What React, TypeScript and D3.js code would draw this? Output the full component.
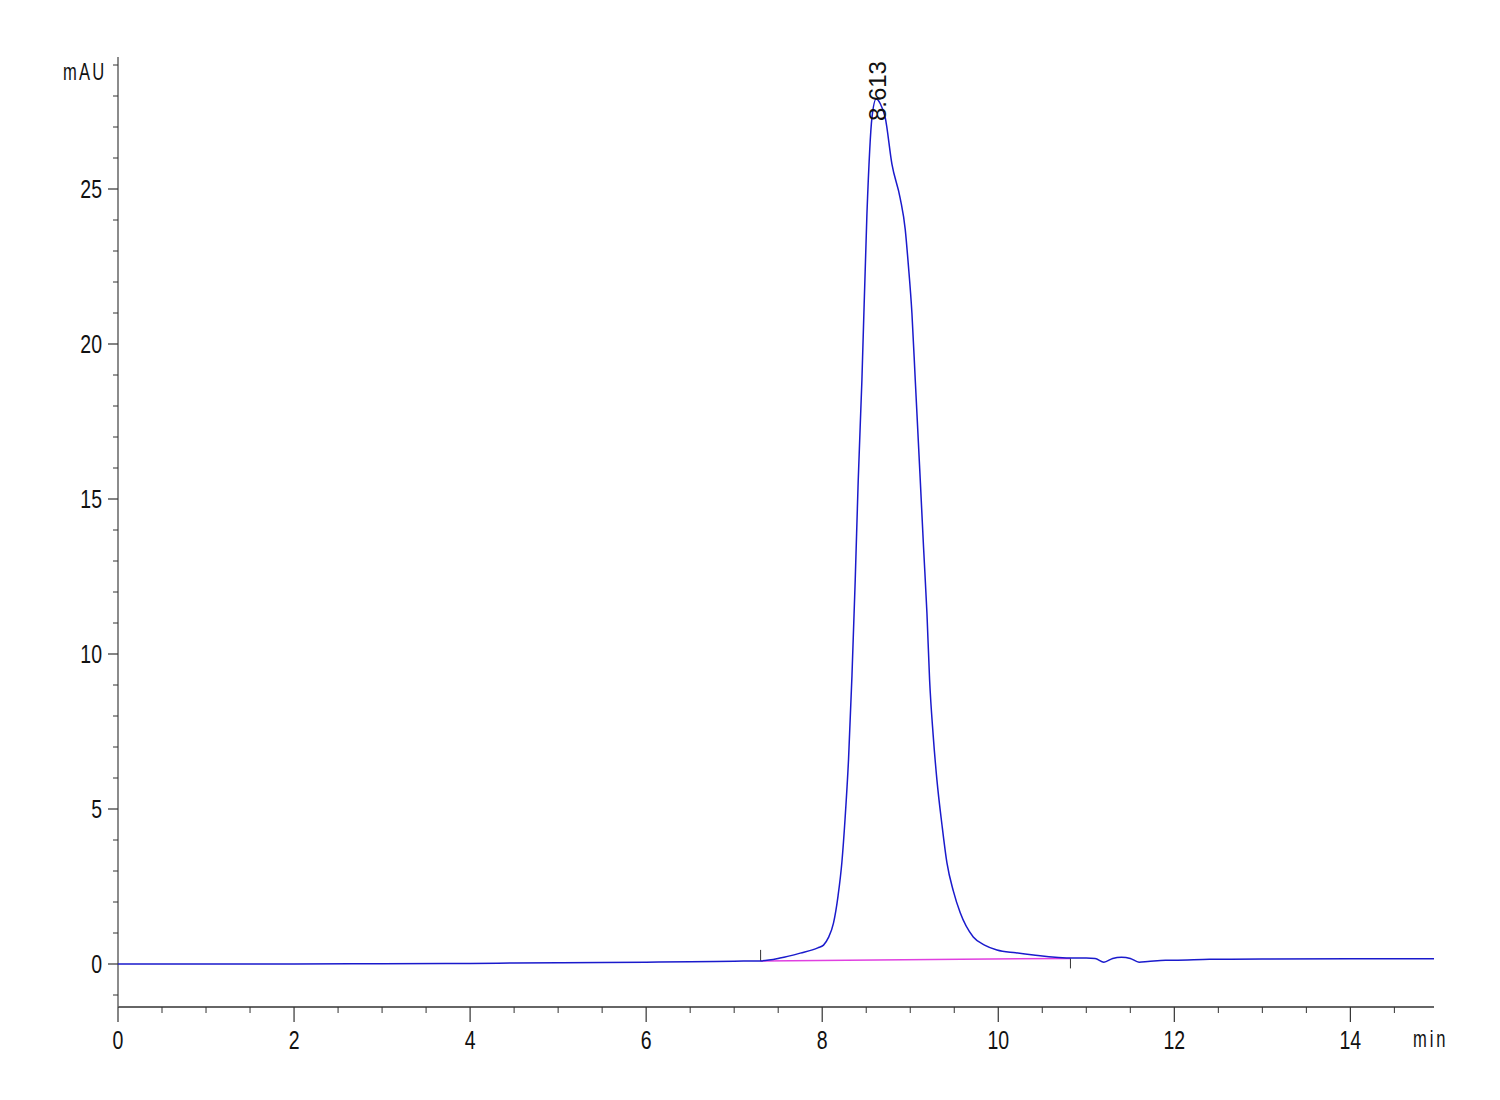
import React from "react";
import * as d3 from "d3";

const timeMin: number[] = [0, 1, 2, 3, 4, 4.5, 5, 5.5, 6, 6.5, 7, 7.3, 7.52, 7.75, 7.95, 8.015, 8.07, 8.128, 8.18, 8.224, 8.26, 8.299, 8.338, 8.375, 8.409, 8.451, 8.508, 8.565, 8.613, 8.66, 8.716, 8.792, 8.886, 8.943, 8.977, 9.019, 9.057, 9.114, 9.151, 9.19, 9.22, 9.26, 9.303, 9.36, 9.417, 9.49, 9.568, 9.716, 9.85, 9.985, 10.2, 10.4, 10.85, 11.0, 11.1, 11.2, 11.3, 11.4, 11.5, 11.6, 11.7, 11.9, 12.0, 12.4, 13.0, 14.0, 14.95];
const signal: number[] = [0.0, 0.0, 0.0, 0.01, 0.02, 0.03, 0.04, 0.05, 0.06, 0.07, 0.09, 0.1, 0.19, 0.35, 0.52, 0.61, 0.85, 1.32, 2.2, 3.3, 4.7, 6.6, 9.3, 12.39, 15.6, 18.84, 24.2, 27.3, 27.9, 27.75, 27.3, 25.8, 24.7, 23.7, 22.6, 21.0, 18.84, 15.6, 13.45, 11.3, 9.16, 7.4, 5.94, 4.5, 3.26, 2.35, 1.65, 0.87, 0.6, 0.45, 0.36, 0.29, 0.19, 0.19, 0.18, 0.06, 0.18, 0.22, 0.18, 0.06, 0.08, 0.12, 0.12, 0.15, 0.16, 0.17, 0.17];
const baselineStart = { t: 7.3, v: 0.1 };
const baselineEnd = { t: 10.82, v: 0.18 };
const peakTime = 8.613;
const peakValue = 27.9;
const yMajorTicks: number[] = [0, 5, 10, 15, 20, 25];
const xMajorTicks: number[] = [0, 2, 4, 6, 8, 10, 12, 14];

const font = "'Liberation Sans', Arial, sans-serif";

function Label({ x, y, anchor, children, size = 25, sx = 0.78, spacing = 0 }: any) {
  return (
    <text
      transform={`translate(${x},${y}) scale(${sx},1)`}
      textAnchor={anchor}
      fontFamily={font}
      fontSize={size}
      letterSpacing={spacing}
      fill="#111"
    >
      {children}
    </text>
  );
}

export default function App() {
  const x = d3.scaleLinear().domain([0, 14.95]).range([118, 1434]);
  const y = d3.scaleLinear().domain([0, 25]).range([964, 189]);
  const yTop = 57;
  const yBottom = 1007;

  const pts = timeMin.map((t, i) => [t, signal[i]] as [number, number]);
  const line = d3.line<[number, number]>().x(d => x(d[0])).y(d => y(d[1])).curve(d3.curveMonotoneX);

  const yMinor: number[] = d3.range(-1, 30).filter(v => v % 5 !== 0 && y(v) >= yTop && y(v) <= yBottom);
  const xMinor: number[] = d3.range(0, 15, 0.5).filter(v => !xMajorTicks.includes(v) && x(v) <= 1434);

  return (
    <svg width={1500} height={1100} style={{ position: "absolute", left: 0, top: 0, background: "#fff" }}>
      <rect x={0} y={0} width={1500} height={1100} fill="#fff" />
      {/* axes */}
      <line x1={118} x2={118} y1={yTop} y2={yBottom} stroke="#666" strokeWidth={1.5} />
      <line x1={118} x2={1434} y1={yBottom} y2={yBottom} stroke="#666" strokeWidth={2} />
      {yMajorTicks.map(v => (
        <g key={"ym" + v}>
          <line x1={108} x2={118} y1={y(v)} y2={y(v)} stroke="#333" strokeWidth={1.2} />
          <Label x={102} y={y(v) + 9} anchor="end">{v}</Label>
        </g>
      ))}
      {yMinor.map(v => (
        <line key={"yn" + v} x1={113} x2={118} y1={y(v)} y2={y(v)} stroke="#333" strokeWidth={1} />
      ))}
      {xMajorTicks.map(v => (
        <g key={"xm" + v}>
          <line x1={x(v)} x2={x(v)} y1={yBottom} y2={yBottom + 15} stroke="#333" strokeWidth={1.2} />
          <Label x={x(v)} y={1049} anchor="middle">{v}</Label>
        </g>
      ))}
      {xMinor.map(v => (
        <line key={"xn" + v} x1={x(v)} x2={x(v)} y1={yBottom} y2={yBottom + 6} stroke="#333" strokeWidth={1} />
      ))}
      <Label x={63} y={80} anchor="start" size={23} sx={0.72} spacing={3}>mAU</Label>
      <Label x={1413} y={1047} anchor="start" size={23} sx={0.72} spacing={4}>min</Label>

      {/* integration baseline */}
      <line x1={x(baselineStart.t)} x2={x(baselineEnd.t)} y1={y(baselineStart.v)} y2={y(baselineEnd.v)} stroke="#e040e0" strokeWidth={1.5} />
      <line x1={x(baselineStart.t)} x2={x(baselineStart.t)} y1={y(baselineStart.v) - 11} y2={y(baselineStart.v)} stroke="#333" strokeWidth={1} />
      <line x1={x(baselineEnd.t)} x2={x(baselineEnd.t)} y1={y(baselineEnd.v)} y2={y(baselineEnd.v) + 10} stroke="#333" strokeWidth={1} />

      {/* signal */}
      <path d={line(pts) ?? ""} fill="none" stroke="#1a1acc" strokeWidth={1.5} />

      {/* peak label */}
      <text transform={`translate(${x(peakTime) + 10},${y(peakValue) + 22}) rotate(-90)`} fontFamily={font} fontSize={24} fill="#111">{peakTime.toFixed(3)}</text>
    </svg>
  );
}
